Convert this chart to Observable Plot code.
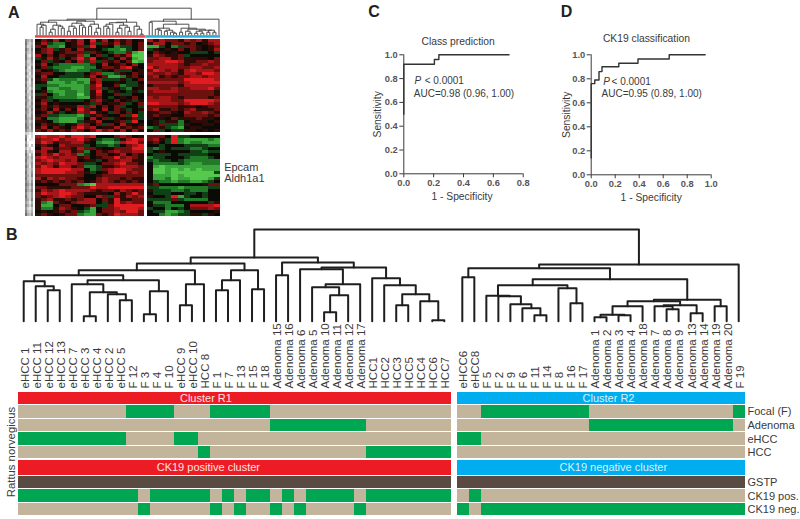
<!DOCTYPE html>
<html><head><meta charset="utf-8">
<script src="https://cdn.jsdelivr.net/npm/d3@7"></script>
<script src="https://cdn.jsdelivr.net/npm/@observablehq/plot@0.6"></script>
<style>
html,body{margin:0;padding:0;background:#fff}
#page{position:relative;width:800px;height:519px;overflow:hidden;background:#fff}
#page svg{position:absolute;overflow:visible}
</style></head><body><div id="page"></div>
<script>
// ---------- Panel B data ----------
const samplesR1 = ["eHCC 1","eHCC 11","eHCC 12","eHCC 13","eHCC 7","eHCC 3","eHCC 4","eHCC 2","eHCC 5","F 12","F 3","F 4","F 10","eHCC 9","eHCC 10","HCC 8","F 1","F 7","F 13","F 15","F 18","Adenoma 15","Adenoma 16","Adenoma 6","Adenoma 5","Adenoma 10","Adenoma 11","Adenoma 12","Adenoma 17","HCC1","HCC2","HCC3","HCC5","HCC4","HCC6","HCC7"];
const samplesR2 = ["eHCC6","eHCC8","F 5","F 2","F 9","F 6","F 11","F 14","F 8","F 16","F 17","Adenoma 1","Adenoma 2","Adenoma 3","Adenoma 4","Adenoma 18","Adenoma 7","Adenoma 8","Adenoma 9","Adenoma 13","Adenoma 14","Adenoma 19","Adenoma 20","F 19"];
const ck19Negative = ["F 3","F 1","F 13","Adenoma 15","Adenoma 6","Adenoma 17","eHCC6","F 5","F 2","F 9","F 6","F 11","F 14","F 8","F 16","F 17","Adenoma 1","Adenoma 2","Adenoma 3","Adenoma 4","Adenoma 18","Adenoma 7","Adenoma 8","Adenoma 9","Adenoma 13","Adenoma 14","Adenoma 19","Adenoma 20","F 19"];
const rowNames = ["Cluster","Focal (F)","Adenoma","eHCC","HCC","CK19 cluster","GSTP","CK19 pos.","CK19 neg."];
const rowWeights = [1,1,1,1,1,1.2,1,1,1];
const rowSideLabels = ["Focal (F)","Adenoma","eHCC","HCC","GSTP","CK19 pos.","CK19 neg."];
// dendrogram: [height, left, right]
const dendroR1 = [64,
  [58,
    [51,
      [46,
        [40,"eHCC 1",[35,"eHCC 11",[31,"eHCC 12","eHCC 13"]]],
        [41,[37,"eHCC 7",[29,[5,"eHCC 3","eHCC 4"],[27,"eHCC 2",[21,"eHCC 5","F 12"]]]],[30,[7,"F 3","F 4"],"F 10"]]],
      [37,[16,"eHCC 9","eHCC 10"],"HCC 8"]],
    [51,[41,[31,"F 1","F 7"],"F 13"],[32,"F 15","F 18"]]],
  [59,
    [46,"Adenoma 15","Adenoma 16"],
    [54,
      [52,"Adenoma 6",[37,[34,"Adenoma 5",[26,[9,"Adenoma 10","Adenoma 11"],"Adenoma 12"]],"Adenoma 17"]],
      [43,"HCC1",[36,"HCC2",[27,[16,"HCC3","HCC5"],[20,"HCC4",[1,"HCC6","HCC7"]]]]]]]];
const dendroR2 = [57,
  [53,
    [44,"eHCC6","eHCC8"],
    [42,
      [36,
        [25.5,"F 5",[25,"F 2",[17,"F 9",[13,"F 6",[6,"F 11","F 14"]]]]],
        [33,"F 8",[18,"F 16","F 17"]]],
      [21.5,
        [20,
          [15,[6.5,[4,"Adenoma 1","Adenoma 2"],[6,"Adenoma 3","Adenoma 4"]],"Adenoma 18"],
          [16,[15,"Adenoma 7",[12,"Adenoma 8","Adenoma 9"]],[8,"Adenoma 13","Adenoma 14"]]],
        [15,"Adenoma 19","Adenoma 20"]]]],
  "F 19"];
const dendroRootHeight = 92;

// ---------- Panel A data ----------
const treeAColumnsLeft = [16,
  [15,
    [13,[11,0,[10,[8,0,0],0]],[10,[6,[3,0,0],0],[9,0,[7,0,0]]]],
    [14,[12,[9,[4,0,0],[7,0,0]],[10,0,[8,0,0]]],[11,[9,0,0],[7,[3,0,0],0]]]],
  [13,
    [12.5,[11,[9,0,[7,0,0]],0],[10,[7,[3,0,0],0],[8,0,[4,0,0]]]],
    [9,0,[6,0,[1,0,0]]]]];
const treeAColumnsRight = [16,
  [14,[13,0,0],
    [11,
      [7,[6,0,[5,0,0]],[5,[4,0,0],[3,0,[2,0,0]]]],
      [7,[3,0,0],[6,[4,0,[2,0,0]],[5,[4,[2,0,0],[2,0,0]],[5,[3,0,0],[3,0,0]]]]]]],
  0];
const treeARootHeight = 27;
// expression level by row: 0 bright green, 4 black, 8 bright red
const heatTopLeft = ["465746574857465645","573224574736575646","652214563845423346","467356475543221346","567456663654322610","746465572463465700","357534686845347510","463546473736564601","574322222347456474","463222112246657854","645321122335463345","566443334672235465","474433335746112564","563122211673335346","451112121574454334","332211112684462335","341122112673543245","452112212584354353","364212202574463344","553222211564345464","463433334675464535","574544445364556346","465655573746463443","564746486547465345","457534576854364643","563322213565446383","642211124746354563","554211135574456384","465534576463647545","574654686745575656","657565764686757475"];
const heatTopRight = ["757665767577","577466564567","113423665456","354546465457","465454433343","576556344444","667756555546","677887556676","777776566766","867776677667","687675787776","766765776887","675656677677","666666888887","777776788888","566665777777","776676677786","677776666665","666666666665","767765666656","777766888887","887776788876","666665554566","675565675556","556654766765","565544666656","545465556554","453552455545","456332544554","235321455444","463433554545"];
const heatBottomLeft = ["787786887844467645","677867786532235787","687566775421127886","565476663433234678","477566576654466688","675477562465676677","576867623466457465","787677756456686765","678776745534667755","767687763346678665","687577562235567776","788888774236788766","788887765345788676","666666664456666666","757676654467665655","565656564567656565","444466621077777777","665555666877888888","576787777656657656","687788765555475686","656787664476365767","567556567746585566","521654677743586766","511466445633688888","522576543146678887","454565632146676886","565456621165687776"];
const heatBottomRight = ["666483344444","675382111121","564382122111","443444333322","323433322344","345444433233","433343333344","233444322234","323343222222","422223211222","410111111111","400101010111","400100000003","411101000000","411201100013","432212211234","564444444566","332221222233","533322322244","433344334344","544381344344","333363222244","422244444435","433222477778","344243466676","433112344445","442123355354"];
const geneTreeShade = ["6435","7324","6225","7426","6325","7215","7326","6225","6324","7216","6225","7315","6224","7316","6215","7225","6314","7226","6325","7316","6425","7326","6335","7426","6425","7326","7436","6425","7436","7526","6435","3212","6102","7011","5100","6203","4120","6232","7314","6425","7324","6325","7415","6324","7325","6426","7324","6425","7536","6425","7436","6325","7325","6426","5314","6425","5213","6324","7435"];

// ---------- Panels C, D data ----------
const rocCx = [0,0,0.205,0.235,0.705];
const rocCy = [0.5,0.92,0.96,1,1];
const rocDx = [0,0,0.03,0.065,0.09,0.23,0.39,0.65,0.95];
const rocDy = [0.14,0.76,0.79,0.86,0.90,0.93,0.965,1,1];
const ticksC = [0,0.2,0.4,0.6,0.8];
const ticksD = [0,0.2,0.4,0.6,0.8,1];
const ticksSens = [0,0.2,0.4,0.6,0.8,1];

// ---------- helpers ----------
const FONT = "'Liberation Sans',Arial,sans-serif";
const INK = "#3a3a3a";
const baseStyle = {background:"transparent",fontFamily:FONT,color:INK,overflow:"visible"};
const page = document.getElementById("page");
function place(svg,left,top,filter){
  svg.style.left = left+"px"; svg.style.top = top+"px";
  if (filter) svg.style.filter = filter;
  page.appendChild(svg);
}
function treeSegments(tree,pos){
  const segs = []; let id = 0;
  (function walk(n){
    if (!Array.isArray(n)) return {x:pos(n),h:0};
    const [h,a,b] = n, A = walk(a), B = walk(b), k = id++;
    segs.push({id:k,x:A.x,h:A.h},{id:k,x:A.x,h},{id:k,x:B.x,h},{id:k,x:B.x,h:B.h});
    return {x:(A.x+B.x)/2,h};
  })(tree);
  return segs;
}

// ---------- Panel A ----------
const heatCells = [];
function addBlock(rows,col0,row0){
  rows.forEach((r,i)=>[...r].forEach((c,j)=>heatCells.push({
    x1:col0+j,x2:col0+j+1,y1:row0+i,y2:row0+i+1,v:+c})));
}
addBlock(heatTopLeft,0,0);
addBlock(heatTopRight,18.5,0);
addBlock(heatBottomLeft,0,32);
addBlock(heatBottomRight,18.5,32);

place(Plot.plot({
  width:240,height:225,margin:0,marginLeft:35,marginRight:20,
  style:baseStyle,
  x:{domain:[0,30.5],axis:null},
  y:{domain:[0,59],range:[39.3,216.3],axis:null},
  color:{type:"linear",domain:[0,1,2,3,4,5,6,7,8],
    range:["#55c94c","#3aa63c","#217a28","#113f16","#0c0a04","#2e0b06","#6e100e","#a81518","#e01c20"]},
  marks:[
    Plot.rect(heatCells,{x1:"x1",x2:"x2",y1:"y1",y2:"y2",fill:"v",shapeRendering:"crispEdges"})
  ]
}),0,0,"blur(0.6px)");

const geneCells = [];
geneTreeShade.forEach((r,i)=>[...r].forEach((c,j)=>geneCells.push({i,j,v:+c})));
place(Plot.plot({
  width:240,height:225,margin:0,marginLeft:25,marginRight:207,
  style:baseStyle,
  x:{domain:[0,4],axis:null},
  y:{domain:[0,59],range:[39.3,216.3],axis:null},
  color:{type:"linear",domain:[0,9],range:["#ffffff","#4a4a4a"]},
  marks:[
    Plot.rect(geneCells,{x1:"j",x2:d=>d.j+1,y1:"i",y2:d=>d.i+1,fill:"v",shapeRendering:"crispEdges"})
  ]
}),0,0,"blur(0.5px)");

let leafA = 0;
const segsA = treeSegments([treeARootHeight,treeAColumnsLeft,treeAColumnsRight],()=>{
  const i = leafA++;
  return i<36 ? i/2+0.25 : 18.5+(i-36)/2+0.25;
});
place(Plot.plot({
  width:240,height:225,margin:0,marginLeft:35,marginRight:20,
  style:baseStyle,
  x:{domain:[0,30.5],axis:null},
  y:{domain:[-190.3,34.7],range:[225,0],axis:null},
  color:{domain:["R1","R2"],range:["#e8474c","#29abe2"]},
  marks:[
    Plot.line(segsA,{x:"x",y:"h",z:"id",stroke:"#3c3c3c",strokeWidth:0.9}),
    Plot.rect([{c:"R1",a:0,b:18.2},{c:"R2",a:18.2,b:30.5}],{x1:"a",x2:"b",y1:-0.5,y2:-3,fill:"c"}),
    Plot.text(["A"],{x:-3.6,y:22.7,fontSize:16,fontWeight:"bold",fill:"#222"}),
    Plot.text(["Epcam"],{x:31.1,y:-132.5,textAnchor:"start",fontSize:11}),
    Plot.text(["Aldh1a1"],{x:31.1,y:-143.5,textAnchor:"start",fontSize:11})
  ]
}),0,0);

// ---------- Panel B dendrogram ----------
const sampleX = new Map([...samplesR1.map((s,i)=>[s,i+0.5]),...samplesR2.map((s,i)=>[s,36.5+i+0.5])]);
const allSamples = [...samplesR1,...samplesR2];
const segsB = treeSegments([dendroRootHeight,dendroR1,dendroR2],s=>sampleX.get(s));
place(Plot.plot({
  width:800,height:165,margin:0,marginLeft:17.2,marginRight:55.8,marginTop:4,marginBottom:69.3,
  style:baseStyle,
  x:{domain:[0,60.5],axis:null},
  y:{domain:[0,92],axis:null},
  marks:[
    Plot.line(segsB,{x:"x",y:"h",z:"id",stroke:"#1e1e1e",strokeWidth:2,strokeLinejoin:"round"}),
    Plot.text(allSamples,{x:s=>sampleX.get(s),y:-67.5,text:s=>s,rotate:-90,textAnchor:"start",dx:1.2,fontSize:11.5,fill:INK}),
    Plot.text(["B"],{x:-0.5,y:86.5,fontSize:16,fontWeight:"bold",fill:"#222"})
  ]
}),0,225);

// ---------- Panel B strips ----------
const typeOf = s => s.startsWith("eHCC") ? "eHCC" : s.startsWith("HCC") ? "HCC" : s.startsWith("Adenoma") ? "Adenoma" : "Focal (F)";
const rowTop = [0,...d3.cumsum(rowWeights)];
function stateOf(row,s,cluster){
  if (row==="Cluster"||row==="CK19 cluster") return cluster;
  if (row==="GSTP") return "gstp";
  if (row==="CK19 pos.") return ck19Negative.includes(s) ? "off" : "on";
  if (row==="CK19 neg.") return ck19Negative.includes(s) ? "on" : "off";
  return typeOf(s)===row ? "on" : "off";
}
const stripRects = [];
rowNames.forEach((row,r)=>{
  [[samplesR1,"R1",0],[samplesR2,"R2",36.5]].forEach(([list,cluster,off])=>{
    let cur = null;
    list.forEach((s,i)=>{
      const st = stateOf(row,s,cluster);
      if (cur && cur.state===st) cur.x2 = off+i+1;
      else { cur = {state:st,x1:off+i,x2:off+i+1,y1:rowTop[r],y2:rowTop[r+1]}; stripRects.push(cur); }
    });
  });
});
const sideLabelY = rowSideLabels.map(n=>{const r=rowNames.indexOf(n);return (rowTop[r]+rowTop[r+1])/2;});
const mid = r => (rowTop[r]+rowTop[r+1])/2;
place(Plot.plot({
  width:800,height:130,margin:0,marginLeft:18,marginRight:55,marginTop:1,marginBottom:4,
  style:baseStyle,
  x:{domain:[0,60.5],axis:null},
  y:{domain:[rowTop[rowTop.length-1],0],axis:null},
  color:{domain:["R1","R2","on","off","gstp"],range:["#ed1c24","#00aeef","#00a651","#c2b59b","#594a42"]},
  marks:[
    Plot.rect(stripRects,{x1:"x1",x2:"x2",y1:"y1",y2:"y2",fill:"state",insetTop:0.6,insetBottom:0.6,shapeRendering:"crispEdges"}),
    Plot.text(["Cluster R1"],{x:15.6,y:mid(0),fill:"#fde3e0",fontSize:11}),
    Plot.text(["Cluster R2"],{x:49.1,y:mid(0),fill:"#d6f1fb",fontSize:11}),
    Plot.text(["CK19 positive cluster"],{x:15.8,y:mid(5),fill:"#fde3e0",fontSize:11}),
    Plot.text(["CK19 negative cluster"],{x:49.5,y:mid(5),fill:"#d6f1fb",fontSize:11}),
    Plot.text(rowSideLabels,{x:60.5,y:(d,i)=>sideLabelY[i],text:d=>d,textAnchor:"start",dx:2,fontSize:11,fill:INK}),
    Plot.text(["Rattus norvegicus"],{x:-0.6,y:4.45,rotate:-90,fontSize:11.3,fill:INK})
  ]
}),0,390);

// ---------- Panels C, D ----------
function rocPanel(o){
  return Plot.plot({
    width:o.width,height:185,margin:0,marginLeft:o.ml,marginRight:o.mr,marginTop:o.mt,marginBottom:o.mb,
    style:baseStyle,
    x:{domain:o.xd},
    y:{domain:[0,1]},
    marks:[
      Plot.axisX({ticks:o.xt,tickFormat:".1f",tickSize:4,tickPadding:2,label:null,fontSize:9.3,fontWeight:"bold",stroke:INK,fill:"#555"}),
      Plot.axisY({ticks:ticksSens,tickFormat:".1f",tickSize:4,tickPadding:2,label:null,fontSize:9.3,fontWeight:"bold",stroke:INK,fill:"#555"}),
      Plot.ruleX([0],{y1:0,y2:1,stroke:INK}),
      Plot.ruleY([0],{x1:o.xd[0],x2:o.xd[1],stroke:INK}),
      Plot.line(o.rx,{x:d=>d,y:(d,i)=>o.ry[i],curve:"step-after",stroke:"#333",strokeWidth:1.4}),
      Plot.text([o.title],{x:o.tx,y:o.ty,fontSize:10.3}),
      Plot.text(["Sensitivity"],{x:o.slx,y:0.5,rotate:-90,fontSize:10.3}),
      Plot.text(["1 - Specificity"],{x:o.sx,y:-0.19,fontSize:10.3}),
      Plot.text(["P"],{x:o.px,y:0.778,textAnchor:"start",fontStyle:"italic",fontSize:10}),
      Plot.text(["< 0.0001"],{x:o.ltx,y:0.778,textAnchor:"start",fontSize:10}),
      Plot.text([o.auc],{x:o.ax,y:0.675,textAnchor:"start",fontSize:10}),
      Plot.text([o.letter],{x:o.lx,y:1.36,fontSize:16,fontWeight:"bold",fill:"#222"})
    ]
  });
}
place(rocPanel({width:175,ml:38.3,mr:17.3,mt:26.3,mb:39.7,xd:[0,0.8],xt:ticksC,rx:rocCx,ry:rocCy,
  title:"Class prediction",tx:0.364,ty:1.106,slx:-0.172,sx:0.39,px:0.072,ltx:0.14,ax:0.067,
  auc:"AUC=0.98 (0.96, 1.00)",letter:"C",lx:-0.2}),365,28);
place(rocPanel({width:175,ml:40.7,mr:14.3,mt:26.3,mb:38.7,xd:[0,1],xt:ticksD,rx:rocDx,ry:rocDy,
  title:"CK19 classification",tx:0.46,ty:1.133,slx:-0.208,sx:0.5,px:0.1,ltx:0.17,ax:0.086,
  auc:"AUC=0.95 (0.89, 1.00)",letter:"D",lx:-0.205}),550,28);
</script></body></html>
